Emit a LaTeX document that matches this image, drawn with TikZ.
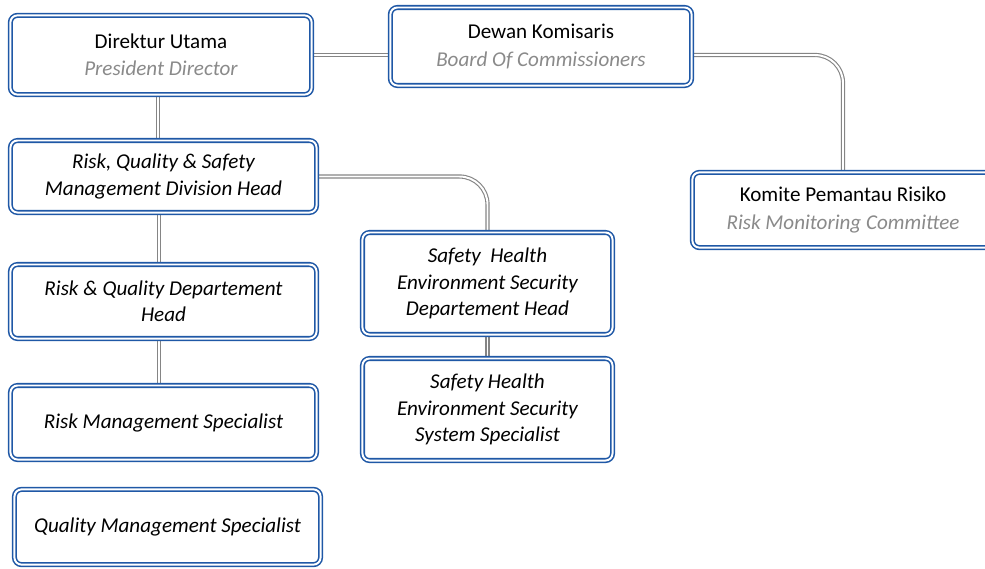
\documentclass[tikz,border=0pt]{standalone}
\usepackage{fontspec}
\setmainfont{Carlito}
\usetikzlibrary{positioning,backgrounds}
\definecolor{boxblue}{HTML}{1F58A6}
\definecolor{linegray}{HTML}{858585}
\definecolor{subgray}{HTML}{8A8A8A}
\tikzset{
  unitbox/.style={draw=boxblue, double=white, line width=1.1pt, double distance=1.4pt,
    rounded corners=5pt, fill=white, align=center, inner sep=0pt,
    font=\fontsize{15}{19.5}\selectfont},
  rolebox/.style={unitbox, font=\fontsize{15}{18.8}\selectfont\itshape},
  link/.style={draw=linegray, double=white, line width=0.8pt, double distance=1.4pt,
    rounded corners=0.7cm}
}

\begin{document}
\begin{tikzpicture}[x=0.025cm, y=-0.025cm]
  % Page frame (pixel units of the original sheet).
  \useasboundingbox (0,0) rectangle (985,568);
  \clip (0,0) rectangle (985,568);

  % Board level.
  \node[unitbox, minimum width=7.53cm, minimum height=1.98cm] (dir) at (161,55)
    {Direktur Utama\\ \textcolor{subgray}{\itshape President Director}};
  \node[unitbox, minimum width=7.53cm, minimum height=1.95cm] (dew) at (541,46.5)
    {Dewan Komisaris\\ \textcolor{subgray}{\itshape Board Of Commissioners}};
  \node[unitbox, minimum width=7.53cm, minimum height=1.88cm] (kom) at (843,210)
    {Komite Pemantau Risiko\\ \textcolor{subgray}{\itshape Risk Monitoring Committee}};

  % Risk, quality and safety line.
  \node[rolebox, minimum width=7.65cm, minimum height=1.8cm] (div) at (163.5,176.5)
    {Risk, Quality \& Safety\\ Management Division Head};
  \node[rolebox, minimum width=7.65cm, minimum height=1.85cm] (rqd) at (163.5,301.5)
    {Risk \& Quality Departement\\ Head};
  \node[rolebox, minimum width=7.65cm, minimum height=1.85cm] (rms) at (163.5,422.5)
    {Risk Management Specialist};
  \node[rolebox, minimum width=7.65cm, minimum height=1.88cm] (qms) at (167.5,527)
    {Quality Management Specialist};

  % Safety, health, environment and security.
  \node[rolebox, minimum width=6.25cm, minimum height=2.55cm] (shed) at (487.5,283.5)
    {Safety\ \ Health\\ Environment Security\\ Departement Head};
  \node[rolebox, minimum width=6.25cm, minimum height=2.55cm] (shes) at (487.5,409.5)
    {Safety Health\\ Environment Security\\ System Specialist};

  % Connectors, kept behind the boxes.
  \begin{scope}[on background layer]
    \draw[link] (dir.east) -- (dir.east -| dew.west);
    \draw[link] (dew.east |- dir.east) -| (kom.north);
    \draw[link] ([xshift=-0.08cm]dir.south) -- ([xshift=-0.08cm]dir.south |- div.north);
    \draw[link] (div.east) -| (shed.north);
    \draw[link] ([xshift=-0.12cm]div.south) -- ([xshift=-0.12cm]div.south |- rqd.north);
    \draw[link] ([xshift=-0.12cm]rqd.south) -- ([xshift=-0.12cm]rqd.south |- rms.north);
    \draw[link] (shed.south) -- (shes.north);
  \end{scope}
\end{tikzpicture}
\end{document}
